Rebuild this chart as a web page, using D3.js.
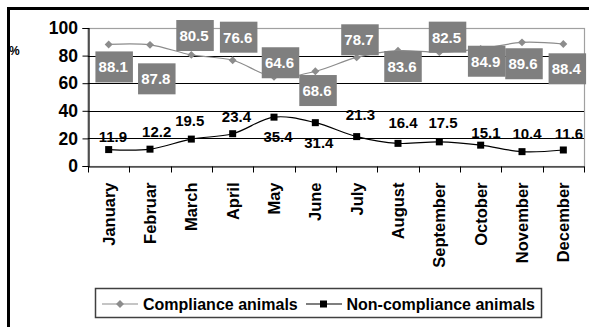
<!DOCTYPE html>
<html>
<head>
<meta charset="utf-8">
<script src="https://cdn.jsdelivr.net/npm/d3@7/dist/d3.min.js"></script>
<style>
  html, body { margin: 0; padding: 0; background: #fff; }
  svg { display: block; font-family: "Liberation Sans", Arial, sans-serif; font-weight: bold; }
</style>
</head>
<body>
<svg id="chart" width="589" height="327"></svg>
<script>
// Monthly shares of animals (%)
const months = ["January", "Februar", "March", "April", "May", "June", "July",
                "August", "September", "October", "November", "December"];
const compliance    = [88.1, 87.8, 80.5, 76.6, 64.6, 68.6, 78.7, 83.6, 82.5, 84.9, 89.6, 88.4];
const nonCompliance = [11.9, 12.2, 19.5, 23.4, 35.4, 31.4, 21.3, 16.4, 17.5, 15.1, 10.4, 11.6];
const yTicks = [0, 20, 40, 60, 80, 100];
const seriesNames = ["Compliance animals", "Non-compliance animals"];

// Label placement (pixel shifts from each point)
const compBoxShiftX = [5.5, 6.8, 3.7, 6, 6.5, 2.7, 3.3, 5, 8.2, 6, 2, 4];
const compBoxTop    = [7, 18.5, -34.9, -38.6, -29.6, 3.7, -33.1, 0.4, -30.5, -3.1, 5.9, 9.3];
const nonShiftX     = [4.3, 6.7, -1.6, 3.8, 4, 3.5, 3.8, 5, 3.7, 5.3, 5, 5.7];
const nonBaseline   = [-8, -12, -13, -12, 24.6, 25.6, -17, -15.7, -14, -7.5, -12.3, -10.7];

const svg = d3.select("#chart");
const plotLeft = 88, plotRight = 584, plotTop = 28, plotBottom = 166;

const x = d3.scaleBand().domain(months).range([plotLeft, plotRight]);
const y = d3.scaleLinear().domain([0, 100]).range([plotBottom, plotTop]);
const cx = m => x(m) + x.bandwidth() / 2;

// outer frame (top and left edges)
svg.append("line").attr("x1", 8).attr("x2", 589).attr("y1", 8.5).attr("y2", 8.5)
  .attr("stroke", "#000").attr("stroke-width", 3);
svg.append("line").attr("x1", 8.5).attr("x2", 8.5).attr("y1", 7).attr("y2", 327)
  .attr("stroke", "#000").attr("stroke-width", 3);

// plot area border
svg.append("rect").attr("x", plotLeft).attr("y", plotTop + 0.5)
  .attr("width", plotRight - plotLeft + 0.5).attr("height", plotBottom - plotTop)
  .attr("fill", "none").attr("stroke", "#a0a0a0").attr("stroke-width", 1.2);

// gridlines
svg.append("g").selectAll("line")
  .data(yTicks.filter(t => t > 0 && t < 100))
  .join("line")
  .attr("x1", plotLeft).attr("x2", plotRight)
  .attr("y1", d => Math.round(y(d)) + 0.5).attr("y2", d => Math.round(y(d)) + 0.5)
  .attr("stroke", "#000").attr("stroke-width", 1.2);

// y axis
const yAxis = svg.append("g").attr("transform", `translate(${plotLeft + 0.5},0)`)
  .call(d3.axisLeft(y).tickValues(yTicks).tickSize(6).tickPadding(4.5).tickFormat(d3.format("d")));
yAxis.select(".domain").attr("stroke", "#000").attr("stroke-width", 1.2);
yAxis.selectAll(".tick line").attr("stroke", "#000");
yAxis.selectAll("text").attr("font-size", 17.5).attr("font-weight", "bold")
  .attr("font-family", "Liberation Sans, Arial, sans-serif").attr("fill", "#000");

svg.append("text").attr("x", 9).attr("y", 55).attr("font-size", 12).text("%");

// x axis
const xAxis = svg.append("g").attr("transform", `translate(0,${plotBottom + 0.5})`)
  .call(d3.axisBottom(x).tickSize(0).tickPadding(0));
xAxis.select(".domain").attr("stroke", "#000").attr("stroke-width", 1.2);
xAxis.selectAll("text")
  .attr("transform", "rotate(-90)")
  .attr("x", -16).attr("y", 0).attr("dy", "0.36em")
  .style("text-anchor", "end")
  .attr("font-size", 16.5).attr("font-weight", "bold")
  .attr("font-family", "Liberation Sans, Arial, sans-serif").attr("fill", "#000");
// category boundary ticks
xAxis.append("g").selectAll("line")
  .data(months.map(m => x(m)).concat([x.range()[1]]))
  .join("line")
  .attr("x1", d => Math.round(d) + 0.5).attr("x2", d => Math.round(d) + 0.5)
  .attr("y1", 0).attr("y2", 6)
  .attr("stroke", "#000");

// series lines
const line = d3.line().curve(d3.curveCatmullRom.alpha(0.5));
const compPts = compliance.map((v, i) => [cx(months[i]), y(v)]);
const nonPts = nonCompliance.map((v, i) => [cx(months[i]), y(v)]);

svg.append("path").attr("d", line(compPts)).attr("fill", "none")
  .attr("stroke", "#8c8c8c").attr("stroke-width", 1.2);
svg.append("path").attr("d", line(nonPts)).attr("fill", "none")
  .attr("stroke", "#000").attr("stroke-width", 1.2);

const diamond = d3.symbol().type(d3.symbolDiamond2).size(40);
svg.append("g").selectAll("path").data(compPts).join("path")
  .attr("transform", d => `translate(${d[0]},${d[1]})`)
  .attr("d", diamond).attr("fill", "#8c8c8c");

svg.append("g").selectAll("rect").data(nonPts).join("rect")
  .attr("x", d => d[0] - 3.5).attr("y", d => d[1] - 3.5)
  .attr("width", 7).attr("height", 7).attr("fill", "#000");

// non-compliance value labels
svg.append("g").selectAll("text").data(nonCompliance).join("text")
  .attr("x", (d, i) => cx(months[i]) + nonShiftX[i])
  .attr("y", (d, i) => y(d) + nonBaseline[i])
  .attr("text-anchor", "middle").attr("font-size", 15).attr("fill", "#000")
  .text(d => d.toFixed(1));

// compliance value labels in gray boxes
const boxW = 37.5, boxH = 31;
const compLabels = svg.append("g").selectAll("g").data(compliance).join("g")
  .attr("transform", (d, i) =>
    `translate(${cx(months[i]) + compBoxShiftX[i]},${y(d) + compBoxTop[i]})`);
compLabels.append("rect")
  .attr("x", -boxW / 2).attr("y", 0).attr("width", boxW).attr("height", boxH)
  .attr("fill", "#7f7f7f");
compLabels.append("text")
  .attr("x", -1).attr("y", boxH / 2 + 5.4)
  .attr("text-anchor", "middle").attr("font-size", 15).attr("fill", "#fff")
  .text(d => d.toFixed(1));

// legend
const legend = svg.append("g");
legend.append("rect").attr("x", 95.5).attr("y", 288.5).attr("width", 446).attr("height", 29)
  .attr("fill", "#fff").attr("stroke", "#404040").attr("stroke-width", 1.5);
legend.append("line").attr("x1", 102).attr("x2", 138).attr("y1", 304).attr("y2", 304)
  .attr("stroke", "#8c8c8c").attr("stroke-width", 1.2);
legend.append("path").attr("transform", "translate(120,304)").attr("d", diamond).attr("fill", "#8c8c8c");
legend.append("text").attr("x", 143).attr("y", 309.5).attr("font-size", 16).text(seriesNames[0]);
legend.append("line").attr("x1", 306).attr("x2", 342).attr("y1", 304).attr("y2", 304)
  .attr("stroke", "#000").attr("stroke-width", 1.2);
legend.append("rect").attr("x", 323.5 - 3.5).attr("y", 304 - 3.5).attr("width", 7).attr("height", 7).attr("fill", "#000");
legend.append("text").attr("x", 346.5).attr("y", 309.5).attr("font-size", 16).text(seriesNames[1]);
</script>
</body>
</html>
